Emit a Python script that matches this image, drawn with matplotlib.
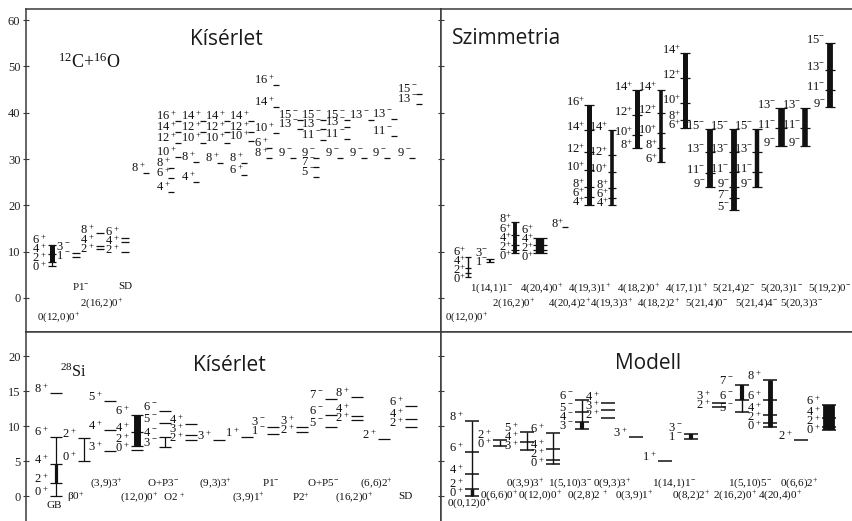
import numpy as np
import matplotlib
matplotlib.use("Agg")
import matplotlib.pyplot as plt

plt.rcParams['font.family'] = ['Liberation Serif', 'DejaVu Serif']
plt.rcParams['mathtext.fontset'] = 'custom'
plt.rcParams['mathtext.rm'] = 'Liberation Serif'
plt.rcParams['mathtext.it'] = 'Liberation Serif:italic'
plt.rcParams['mathtext.bf'] = 'Liberation Serif:bold'

W, H = 853, 521
INK = '#111111'
FRAME = '#3a3a3a'
SPIN_FS = 9

# ---------------- data (energies in MeV) ----------------
# top left, 12C+16O experiment: low lying bands
tl_band_j = [[0, 2, 4, 6], [1, 3], [2, 4, 8], [2, 4, 6]]
tl_band_p = ['+', '-', '+', '+']
tl_band_e = [[6.8, 7.8, 9.6, 11.4], [8.9, 9.7], [10.6, 11.2, 14.0], [9.9, 12.1, 13.0]]
tl_names = ['0(12,0)0$^{+}$', 'P1$^{-}$', '2(16,2)0$^{+}$', 'SD']

# top left: resonances
tl_res_j = [[8], [4, 6, 8, 10, 12, 14, 16], [4, 8, 10, 12, 14], [8, 10, 12, 14],
            [6, 8, 10, 12, 14], [6, 8, 10, 14, 16], [9, 13, 15], [5, 7, 9, 11, 13, 15],
            [9, 11, 13, 15], [9, 13], [9, 11, 13], [9, 13, 15]]
tl_res_p = ['+'] * 6 + ['-'] * 6
tl_res_e = [[28.1], [24.0, 27.0, 29.1, 31.5, 34.5, 36.9, 39.3], [26.1, 30.4, 34.5, 36.9, 39.3],
            [30.2, 34.5, 36.9, 39.3], [27.6, 30.2, 35.0, 36.9, 39.3], [33.5, 31.3, 36.7, 42.3, 47.1],
            [31.3, 37.6, 39.5], [27.2, 29.4, 31.3, 35.2, 37.6, 39.5], [31.3, 35.4, 38.0, 39.5],
            [31.3, 39.5], [31.3, 36.0, 39.7], [31.3, 43.0, 45.1]]

# top right, symmetry bands
tr_j = [[0, 2, 4, 6], [1, 3], [0, 2, 4, 6, 8], [0, 2, 4, 6], [8], [4, 6, 8, 10, 12, 14, 16],
        [4, 6, 8, 10, 12, 14], [8, 10, 12, 14], [6, 8, 10, 12, 14], [6, 8, 10, 12, 14],
        [9, 11, 13, 15], [5, 7, 9, 11, 13, 15], [9, 11, 13, 15], [9, 11, 13], [9, 11, 13],
        [9, 11, 13, 15]]
tr_p = ['+', '-'] + ['+'] * 8 + ['-'] * 6
tr_e = [[4.5, 5.4, 6.5, 8.8], [7.8, 8.4], [9.7, 10.4, 11.4, 13.6, 16.4], [9.7, 10.4, 11.4, 13.0],
        [15.3], [20.1, 21.8, 24.0, 27.6, 31.5, 36.3, 41.7], [20.1, 21.6, 23.7, 27.2, 30.9, 36.3],
        [32.4, 35.2, 39.5, 44.9], [29.4, 32.4, 35.6, 39.9, 44.9], [36.7, 38.4, 42.1, 47.5, 52.9],
        [24.0, 27.0, 31.5, 36.5], [19.0, 21.6, 24.0, 27.2, 31.5, 36.5], [24.0, 27.2, 31.5, 36.5],
        [32.8, 36.7, 41.0], [32.8, 36.7, 41.0], [41.2, 44.9, 49.2, 55.0]]
tr_names = ['0(12,0)0$^{+}$', '1(14,1)1$^{-}$', '2(16,2)0$^{+}$', '4(20,4)0$^{+}$',
            '4(20,4)2$^{+}$', '4(19,3)1$^{+}$', '4(19,3)3$^{+}$', '4(18,2)0$^{+}$',
            '4(18,2)2$^{+}$', '4(17,1)1$^{+}$', '5(21,4)0$^{-}$', '5(21,4)2$^{-}$',
            '5(21,4)4$^{-}$', '5(20,3)1$^{-}$', '5(20,3)3$^{-}$', '5(19,2)0$^{-}$']

# bottom left, 28Si experiment
bl_j = [[0, 2, 4, 6, 8], [0, 2], [3, 4, 5], [0, 2, 4, 6], [3, 4, 5, 6], [2, 3, 4], [3], [1],
        [1, 3], [2, 3], [5, 6, 7], [2, 4, 8], [2], [2, 4, 6]]
bl_p = ['+', '+', '+', '+', '-', '+', '+', '+', '-', '+', '-', '+', '+', '+']
bl_e = [[0, 1.8, 4.6, 8.5, 14.7], [5.0, 8.3], [6.4, 9.4, 13.6], [6.6, 7.1, 9.2, 11.6],
        [7.0, 8.4, 10.4, 12.2], [8.0, 8.7, 10.3], [8.0], [8.4], [8.9, 9.8], [9.2, 9.9],
        [9.9, 11.6, 13.9], [10.9, 11.4, 14.1], [8.1], [9.9, 11.0, 12.9]]
bl_names = ['GB', 'β0$^{+}$', '(3,9)3$^{+}$', '(12,0)0$^{+}$', 'O+P3$^{-}$', 'O2 $^{+}$',
            '(9,3)3$^{+}$', '(3,9)1$^{+}$', 'P1$^{-}$', 'P2$^{+}$', 'O+P5$^{-}$',
            '(16,2)0$^{+}$', '(6,6)2$^{+}$', 'SD']

# bottom right, model
br_j = [[0, 2, 4, 6, 8], [0, 2], [3, 4, 5], [0, 2, 4, 6], [3, 4, 5, 6], [2, 3, 4], [3], [1],
        [1, 3], [2, 3], [5, 6, 7], [0, 2, 4, 6, 8], [2], [0, 2, 4, 6]]
br_p = ['+', '+', '+', '+', '-', '+', '+', '+', '-', '+', '-', '+', '+', '+']
br_e = [[0, 1.0, 3.1, 6.3, 10.7], [7.1, 8.0], [6.6, 7.7, 9.1], [4.6, 5.1, 6.7, 9.0],
        [9.6, 10.6, 12.0, 13.7], [11.1, 12.3, 13.3], [8.4], [5.0], [8.1, 8.9], [12.7, 13.3],
        [12.0, 13.7, 15.9], [9.9, 10.4, 11.6, 13.7, 16.6], [8.0], [9.4, 9.9, 11.1, 13.0]]
br_names = ['0(0,12)0$^{+}$', '0(6,6)0$^{+}$', '0(3,9)3$^{+}$', '0(12,0)0$^{+}$',
            '1(5,10)3$^{-}$', '0(2,8)2 $^{+}$', '0(9,3)3$^{+}$', '0(3,9)1$^{+}$',
            '1(14,1)1$^{-}$', '0(8,2)2$^{+}$', '1(5,10)5$^{-}$', '2(16,2)0$^{+}$',
            '0(6,6)2$^{+}$', '4(20,4)0$^{+}$']

# ---------------- layout (pixel based x, styles) ----------------
tl_band_x = [52, 76, 100, 125]
tl_band_spine = [(0, 3), None, None, None]
tl_band_thick = [(1, 3), None, None, None]
tl_name_x = [37, 72, 80, 118]
tl_name_y = [-4.1, 2.4, -1.1, 2.4]
tl_res_x = [131, 156, 181, 205, 229, 254, 278, 301, 325, 349, 372, 397]

tr_x = [468, 490, 515, 540, 565, 589, 612, 637, 661, 685, 710, 734, 757, 781, 805, 830]
tr_lw = [1.0, 1.5, 2.8, 6.0, 0, 3.6, 2.6, 3.6, 2.6, 3.6, 4.2, 4.2, 3.2, 4.8, 4.0, 4.2]
tr_name_x = [445, 470, 492, 520, 548, 568, 590, 617, 637, 665, 685, 712, 735, 760, 780, 808]
tr_name_row = [2, 0, 1, 0, 1, 0, 1, 0, 1, 0, 1, 0, 1, 0, 1, 0]
tr_row_y = [2.2, -1.1, -4.1]

bl_x = [56, 84, 110, 137, 165, 191, 219, 247, 273, 302, 331, 357, 384, 411]
bl_spine = [(0, 3), (0, 1), None, None, (0, 1)] + [None] * 9
bl_thick = [(1, 2), None, None, (1, 3)] + [None] * 10
bl_thick_lw = [2.3, 0, 0, 5.0] + [0] * 10
bl_name_x = [47, 67, 90, 120, 147, 163, 199, 232, 262, 292, 307, 335, 360, 398]
bl_name_y = [-1.3, -0.14, 1.86, -0.14, 1.86, -0.14, 1.86, -0.14, 1.86, -0.14, 1.86, -0.14, 1.86, -0.14]

br_x = [472, 500, 527, 553, 582, 608, 636, 665, 691, 719, 742, 770, 801, 829]
br_spine = [(0, 4), (0, 1), (0, 2), (0, 3), (0, 3), None, None, None, (0, 1), None, (0, 2), (0, 4), None, (0, 3)]
br_thick = [(0, 1), None, None, None, (0, 1), None, None, None, (0, 1), None, (1, 2), (0, 4), None, (0, 3)]
br_thick_lw = [2.5, 0, 0, 0, 3.0, 0, 0, 0, 3.0, 0, 3.0, 3.5, 0, 8.5]
br_name_x = [447, 480, 506, 518, 548, 567, 593, 615, 652, 672, 728, 713, 780, 758]
br_name_y = [-1.0, 0.14, 1.86, 0.14, 1.86, 0.14, 1.86, 0.14, 1.86, 0.14, 1.86, 0.14, 1.86, 0.14]


def spin(j, p, gap=True):
    if gap:
        return f"{j}$^{{\\,{p}}}$"
    return f"{j}$^{{{p}}}$"


def spread(vals, gap):
    order = np.argsort(vals)
    ys = np.array(vals, float)[order]
    for _ in range(300):
        moved = False
        for i in range(1, len(ys)):
            d = ys[i] - ys[i - 1]
            if d < gap - 1e-9:
                m = (gap - d) / 2
                ys[i] += m
                ys[i - 1] -= m
                moved = True
        if not moved:
            break
    out = np.empty_like(ys)
    out[order] = ys
    return out


def draw_column(ax, x, es, js, p, hw, py, spine=None, spine_lw=0.8, thick=None, thick_lw=3,
                fs=SPIN_FS, off=3, gap=9, dash_lw=0.9, label_dx=None, space=True):
    for e in es:
        ax.plot([x - hw, x + hw], [e, e], color=INK, lw=dash_lw, solid_capstyle='butt')
    if spine:
        ax.plot([x, x], [es[spine[0]], es[spine[1]]], color=INK, lw=spine_lw, solid_capstyle='butt')
    if thick and thick_lw > 0:
        ax.plot([x, x], [es[thick[0]], es[thick[1]]], color=INK, lw=thick_lw, solid_capstyle='butt')
    ys = spread([e + off * py for e in es], gap * py)
    dx = hw + 1.0 if label_dx is None else label_dx
    for y, j in zip(ys, js):
        ax.text(x - dx, y, spin(j, p, space), ha='right', va='center', fontsize=fs, color=INK)


def draw_tagged(ax, x, es, js, p, py, fs=SPIN_FS):
    digit = 0.5 * fs * 100 / 72
    for e, j in zip(es, js):
        ax.text(x, e, spin(j, p), ha='left', va='center', fontsize=fs, color=INK)
        x0 = x + digit * len(str(j)) + 6
        ax.plot([x0, x0 + 6], [e - 5 * py] * 2, color=INK, lw=0.9, solid_capstyle='butt')


fig = plt.figure(figsize=(W / 100, H / 100), dpi=100)


def px_axes(x0, y0, x1, y1, ylim, ticks, labels, hide):
    ax = fig.add_axes([x0 / W, 1 - y1 / H, (x1 - x0) / W, (y1 - y0) / H])
    ax.set_xlim(x0, x1)
    ax.set_ylim(*ylim)
    ax.set_xticks([])
    ax.set_yticks(ticks)
    ax.tick_params(axis='y', direction='inout', length=4, width=0.8, colors=FRAME,
                   labelsize=9, labelcolor='#222222', pad=2, labelleft=labels)
    for name, s in ax.spines.items():
        s.set_color(FRAME)
        s.set_linewidth(1.1)
        if name in hide:
            s.set_visible(False)
    py = (ylim[1] - ylim[0]) / (y1 - y0)
    return ax, py


top_lim = (-7.34, 62.38)
bot_lim = (-3.57, 23.43)
ax_tl, py_t = px_axes(26, 9, 441, 332, top_lim, range(0, 61, 10), True, [])
ax_tr, _ = px_axes(441, 9, 853, 332, top_lim, range(0, 61, 10), False, ['right'])
ax_bl, py_b = px_axes(26, 332, 441, 521, bot_lim, range(0, 21, 5), True, ['bottom'])
ax_br, _ = px_axes(441, 332, 853, 521, bot_lim, range(0, 21, 5), False, ['bottom', 'right'])

title_kw = dict(fontsize=15, family=['Open Sans', 'DejaVu Sans'], color='#1a1a1a', va='center', ha='left')
ax_tl.text(190, 55.7, 'Kísérlet', **title_kw)
ax_tr.text(452, 56.1, 'Szimmetria', **title_kw)
ax_bl.text(193, 18.7, 'Kísérlet', **title_kw)
ax_br.text(615, 19.0, 'Modell', **title_kw)
ax_tl.text(58, 50.9, r'$^{12}$C+$^{16}$O', fontsize=13, va='center', ha='left', color=INK)
ax_bl.text(60, 17.6, r'$^{28}$Si', fontsize=11.5, va='center', ha='left', color=INK)

# top left
for i in range(len(tl_band_j)):
    lw = 3.6 if tl_band_thick[i] else 0
    draw_column(ax_tl, tl_band_x[i], tl_band_e[i], tl_band_j[i], tl_band_p[i], 4, py_t,
                spine=tl_band_spine[i], spine_lw=0.9, thick=tl_band_thick[i], thick_lw=lw)
for i in range(len(tl_names)):
    ax_tl.text(tl_name_x[i], tl_name_y[i], tl_names[i], fontsize=7.8, ha='left', va='center', color=INK)
for i in range(len(tl_res_j)):
    draw_tagged(ax_tl, tl_res_x[i], tl_res_e[i], tl_res_j[i], tl_res_p[i], py_t)

# top right
for i in range(len(tr_j)):
    lw = tr_lw[i]
    hw = lw * 1.39 / 2 + 2.5 if lw > 0 else 3
    span = (0, len(tr_e[i]) - 1) if lw > 0 else None
    draw_column(ax_tr, tr_x[i], tr_e[i], tr_j[i], tr_p[i], hw, py_t,
                spine=span, spine_lw=lw, off=3, gap=9, dash_lw=0.9,
                label_dx=lw * 0.7 + 1.5, space=False)
for i in range(len(tr_names)):
    ax_tr.text(tr_name_x[i], tr_row_y[tr_name_row[i]], tr_names[i], fontsize=7.8,
               ha='left', va='center', color=INK)

# bottom left
for i in range(len(bl_j)):
    draw_column(ax_bl, bl_x[i], bl_e[i], bl_j[i], bl_p[i], 6, py_b,
                spine=bl_spine[i], spine_lw=0.9, thick=bl_thick[i], thick_lw=bl_thick_lw[i],
                off=4, gap=9)
for i in range(len(bl_names)):
    ax_bl.text(bl_name_x[i], bl_name_y[i], bl_names[i], fontsize=8, ha='left', va='center', color=INK)

# bottom right
for i in range(len(br_j)):
    draw_column(ax_br, br_x[i], br_e[i], br_j[i], br_p[i], 7, py_b,
                spine=br_spine[i], spine_lw=1.0, thick=br_thick[i], thick_lw=br_thick_lw[i],
                off=4, gap=9, dash_lw=1.1)
for i in range(len(br_names)):
    ax_br.text(br_name_x[i], br_name_y[i], br_names[i], fontsize=8, ha='left', va='center', color=INK)

fig.savefig('out.png', dpi=100)
